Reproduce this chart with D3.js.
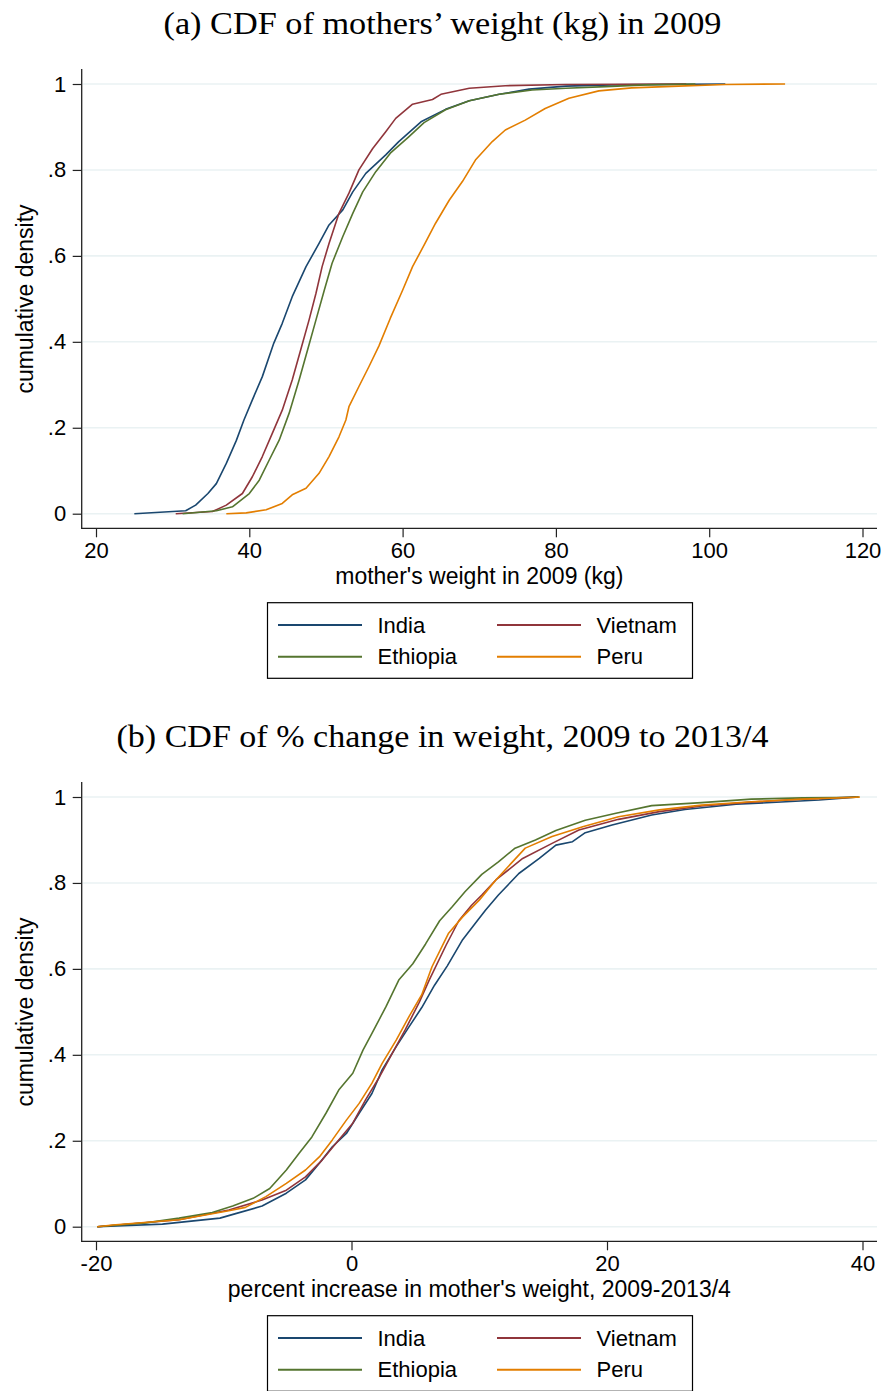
<!DOCTYPE html>
<html>
<head>
<meta charset="utf-8">
<script src="https://cdn.jsdelivr.net/npm/d3@7"></script>
<style>
  html, body { margin: 0; padding: 0; background: #fff; }
  svg { display: block; }
  text { font-family: "Liberation Sans", Arial, Helvetica, sans-serif; fill: #000; }
  .title { font-family: "Liberation Serif", "Times New Roman", serif; }
</style>
</head>
<body>
<script>
// ---- Data: empirical CDFs, [value, cumulative share] ----
const countries = ["India", "Vietnam", "Ethiopia", "Peru"];
const colors = ["#1a476f", "#90353b", "#55752f", "#e37e00"];
const yTicks = [0, 0.2, 0.4, 0.6, 0.8, 1];

// Panel (a): mother's weight in 2009 (kg)
const weightTicks = [20, 40, 60, 80, 100, 120];
const weightIndia = [
  [25.0, 0], [31.7, 0.007], [33.0, 0.02], [34.6, 0.047], [35.7, 0.07], [37.0, 0.117],
  [38.3, 0.17], [39.3, 0.218], [40.4, 0.265], [41.7, 0.319], [43.2, 0.397], [44.3, 0.443],
  [45.6, 0.505], [47.4, 0.575], [49.1, 0.629], [50.4, 0.672], [52.2, 0.707], [53.5, 0.749],
  [55.2, 0.792], [57.8, 0.835], [59.5, 0.866], [62.4, 0.912], [65.6, 0.941], [68.7, 0.961],
  [72.6, 0.976], [76.5, 0.988], [81.3, 0.995], [87.3, 0.998], [102.1, 1]
];
const weightVietnam = [
  [30.4, 0], [35.2, 0.005], [37.0, 0.02], [39.1, 0.047], [40.4, 0.086], [41.7, 0.133],
  [43.0, 0.187], [44.3, 0.241], [45.6, 0.311], [46.7, 0.381], [47.8, 0.451], [48.7, 0.513],
  [49.5, 0.575], [50.4, 0.629], [51.7, 0.699], [53.0, 0.746], [54.3, 0.80], [56.1, 0.85],
  [57.8, 0.889], [59.1, 0.92], [61.3, 0.953], [63.9, 0.964], [65.0, 0.976], [68.7, 0.99],
  [73.4, 0.996], [81.3, 0.999], [97.0, 1]
];
const weightEthiopia = [
  [31.3, 0], [35.7, 0.007], [37.8, 0.016], [40.0, 0.047], [41.3, 0.078], [42.6, 0.125],
  [43.9, 0.171], [45.2, 0.234], [46.5, 0.311], [47.6, 0.381], [48.7, 0.451], [49.8, 0.521],
  [50.8, 0.583], [52.2, 0.645], [53.5, 0.699], [54.8, 0.749], [56.5, 0.796], [58.4, 0.839],
  [60.8, 0.877], [62.8, 0.91], [65.6, 0.94], [68.7, 0.961], [72.6, 0.976], [76.9, 0.986],
  [81.3, 0.99], [86.5, 0.994], [91.7, 0.998], [98.2, 1]
];
const weightPeru = [
  [37.0, 0], [39.6, 0.002], [42.2, 0.009], [44.3, 0.024], [45.6, 0.044], [47.4, 0.059],
  [49.1, 0.094], [50.4, 0.133], [51.7, 0.179], [52.6, 0.218], [53.0, 0.249], [54.3, 0.296],
  [55.6, 0.342], [56.9, 0.39], [58.4, 0.455], [60.0, 0.52], [61.3, 0.575], [62.8, 0.625],
  [64.3, 0.676], [66.1, 0.73], [67.8, 0.773], [69.5, 0.823], [71.7, 0.866], [73.4, 0.893],
  [76.0, 0.916], [78.6, 0.943], [81.7, 0.967], [85.6, 0.984], [89.9, 0.991], [96.0, 0.995],
  [102.1, 0.999], [109.9, 1]
];

// Panel (b): percent increase in mother's weight, 2009-2013/4
const changeTicks = [-20, 0, 20, 40];
const changeIndia = [
  [-19.9, 0], [-14.8, 0.006], [-10.3, 0.02], [-9.0, 0.031], [-7.0, 0.048], [-5.1, 0.078],
  [-3.6, 0.109], [-2.5, 0.148], [-1.5, 0.186], [-0.4, 0.217], [0.6, 0.264], [1.6, 0.31],
  [2.4, 0.365], [3.5, 0.419], [4.5, 0.465], [5.5, 0.51], [6.5, 0.562], [7.5, 0.607],
  [8.7, 0.668], [9.8, 0.71], [10.5, 0.737], [11.5, 0.772], [13.1, 0.822], [14.7, 0.857],
  [16.0, 0.888], [17.3, 0.896], [18.3, 0.917], [20.4, 0.935], [23.5, 0.958], [26.1, 0.971],
  [30.1, 0.983], [34.0, 0.989], [36.6, 0.993], [39.7, 1]
];
const changeVietnam = [
  [-19.9, 0], [-13.5, 0.016], [-9.6, 0.039], [-7.0, 0.062], [-5.1, 0.085], [-3.6, 0.116],
  [-2.3, 0.155], [-1.0, 0.202], [0.1, 0.241], [1.1, 0.295], [2.2, 0.349], [3.2, 0.404],
  [4.2, 0.458], [5.3, 0.522], [6.1, 0.575], [7.4, 0.655], [8.4, 0.712], [9.4, 0.748],
  [10.2, 0.772], [11.3, 0.807], [13.4, 0.857], [15.7, 0.892], [17.8, 0.923], [20.9, 0.948],
  [24.1, 0.966], [27.4, 0.979], [31.3, 0.988], [35.3, 0.995], [39.5, 1]
];
const changeEthiopia = [
  [-19.9, 0], [-16.1, 0.009], [-13.5, 0.02], [-10.9, 0.033], [-9.3, 0.048], [-7.7, 0.066],
  [-6.4, 0.089], [-5.1, 0.132], [-4.1, 0.171], [-3.1, 0.209], [-2.0, 0.264], [-1.0, 0.318],
  [0.1, 0.357], [0.9, 0.411], [1.6, 0.45], [2.7, 0.512], [3.7, 0.574], [4.8, 0.612],
  [5.8, 0.658], [6.9, 0.712], [7.9, 0.745], [8.9, 0.78], [10.2, 0.82],
  [11.5, 0.849], [12.8, 0.881], [14.4, 0.9], [16.0, 0.922], [18.3, 0.946], [20.7, 0.962],
  [23.5, 0.98], [27.4, 0.987], [31.3, 0.995], [35.3, 0.998], [38.1, 0.999], [39.7, 1]
];
const changePeru = [
  [-19.9, 0], [-18.7, 0.004], [-13.5, 0.016], [-9.6, 0.037], [-8.3, 0.045], [-6.7, 0.07],
  [-5.1, 0.101], [-3.6, 0.132], [-2.5, 0.163], [-1.5, 0.202], [-0.4, 0.248], [0.6, 0.287],
  [1.6, 0.334], [2.4, 0.38], [3.5, 0.434], [4.5, 0.489], [5.5, 0.54], [6.3, 0.605],
  [7.6, 0.683], [8.7, 0.721], [10.0, 0.76], [11.3, 0.807], [13.6, 0.881], [15.7, 0.908],
  [18.1, 0.931], [20.9, 0.954], [24.1, 0.97], [27.4, 0.981], [31.3, 0.989], [35.3, 0.995],
  [39.2, 0.999], [39.8, 1]
];

const panels = [
  {
    title: "(a) CDF of mothers\u2019 weight (kg) in 2009",
    titleWidth: 558,
    xLabel: "mother's weight in 2009 (kg)",
    domain: [20, 120], ticks: weightTicks,
    series: [weightIndia, weightVietnam, weightEthiopia, weightPeru],
    dy: 0
  },
  {
    title: "(b) CDF of % change in weight, 2009 to 2013/4",
    titleWidth: 652,
    xLabel: "percent increase in mother's weight, 2009-2013/4",
    domain: [-20, 40], ticks: changeTicks,
    series: [changeIndia, changeVietnam, changeEthiopia, changePeru],
    dy: 713
  }
];

const W = 885, H = 1391;
const svg = d3.select("body").append("svg").attr("width", W).attr("height", H);

const axisX0 = 81.7, plotRight = 877;
const fmtY = v => v === 0 ? "0" : v === 1 ? "1" : d3.format(".1f")(v).replace(/^0/, "");
const fmtX = v => String(v); // plain hyphen for negatives

panels.forEach(p => {
  const g = svg.append("g").attr("transform", `translate(0,${p.dy})`);
  const x = d3.scaleLinear().domain(p.domain).range([96, 862.5]);
  const y = d3.scaleLinear().domain([0, 1]).range([513.7, 84]);
  const axisY = 528.3, axisTop = 69;

  // title
  g.append("text").attr("class", "title")
    .attr("x", W / 2).attr("y", 34)
    .attr("text-anchor", "middle")
    .attr("textLength", p.titleWidth)
    .attr("lengthAdjust", "spacingAndGlyphs")
    .style("font-size", "31px")
    .text(p.title);

  // gridlines
  g.append("g").selectAll("line").data(yTicks).join("line")
    .attr("x1", axisX0 + 1).attr("x2", plotRight)
    .attr("y1", d => y(d)).attr("y2", d => y(d))
    .attr("stroke", "#eaf2f3").attr("stroke-width", 1.6);

  // y axis
  const ya = g.append("g").attr("transform", `translate(${axisX0},0)`)
    .call(d3.axisLeft(y).tickValues(yTicks).tickFormat(fmtY).tickSize(9).tickPadding(6.5));
  ya.select(".domain").remove();
  ya.selectAll(".tick line").attr("stroke", "#222").attr("stroke-width", 1.2);
  ya.selectAll(".tick text").style("font-size", "22px");
  g.append("line").attr("x1", axisX0).attr("x2", axisX0).attr("y1", axisTop).attr("y2", axisY + 0.6)
    .attr("stroke", "#222").attr("stroke-width", 1.3);

  // x axis
  const xa = g.append("g").attr("transform", `translate(0,${axisY})`)
    .call(d3.axisBottom(x).tickValues(p.ticks).tickFormat(fmtX).tickSize(9).tickPadding(5));
  xa.select(".domain").remove();
  xa.selectAll(".tick line").attr("stroke", "#222").attr("stroke-width", 1.2);
  xa.selectAll(".tick text").style("font-size", "22px");
  g.append("line").attr("x1", axisX0).attr("x2", plotRight).attr("y1", axisY).attr("y2", axisY)
    .attr("stroke", "#222").attr("stroke-width", 1.3);

  // axis titles
  g.append("text").attr("x", (axisX0 + plotRight) / 2).attr("y", 584)
    .attr("text-anchor", "middle").style("font-size", "23px").text(p.xLabel);
  g.append("text").attr("transform", `translate(33,299) rotate(-90)`)
    .attr("text-anchor", "middle").style("font-size", "23px").text("cumulative density");

  // CDF curves
  const line = d3.line().x(d => x(d[0])).y(d => y(d[1]));
  p.series.forEach((s, i) => {
    g.append("path").datum(s).attr("d", line)
      .attr("fill", "none").attr("stroke", colors[i])
      .attr("stroke-width", 1.6).attr("stroke-linejoin", "round");
  });

  // legend: two columns, India/Vietnam on the first row, Ethiopia/Peru on the second
  const lg = g.append("g");
  lg.append("rect").attr("x", 267.5).attr("y", 602.7).attr("width", 425).attr("height", 75.6)
    .attr("fill", "#fff").attr("stroke", "#000").attr("stroke-width", 1.2);
  const cols = [278, 497], rows = [625, 656.7];
  countries.forEach((name, k) => {
    const cx = cols[k % 2], cy = rows[Math.floor(k / 2)];
    lg.append("line").attr("x1", cx).attr("x2", cx + 84).attr("y1", cy).attr("y2", cy)
      .attr("stroke", colors[k]).attr("stroke-width", 2);
    lg.append("text").attr("x", cx + 99.5).attr("y", cy + 7.5)
      .style("font-size", "22px").text(name);
  });
});
</script>
</body>
</html>
